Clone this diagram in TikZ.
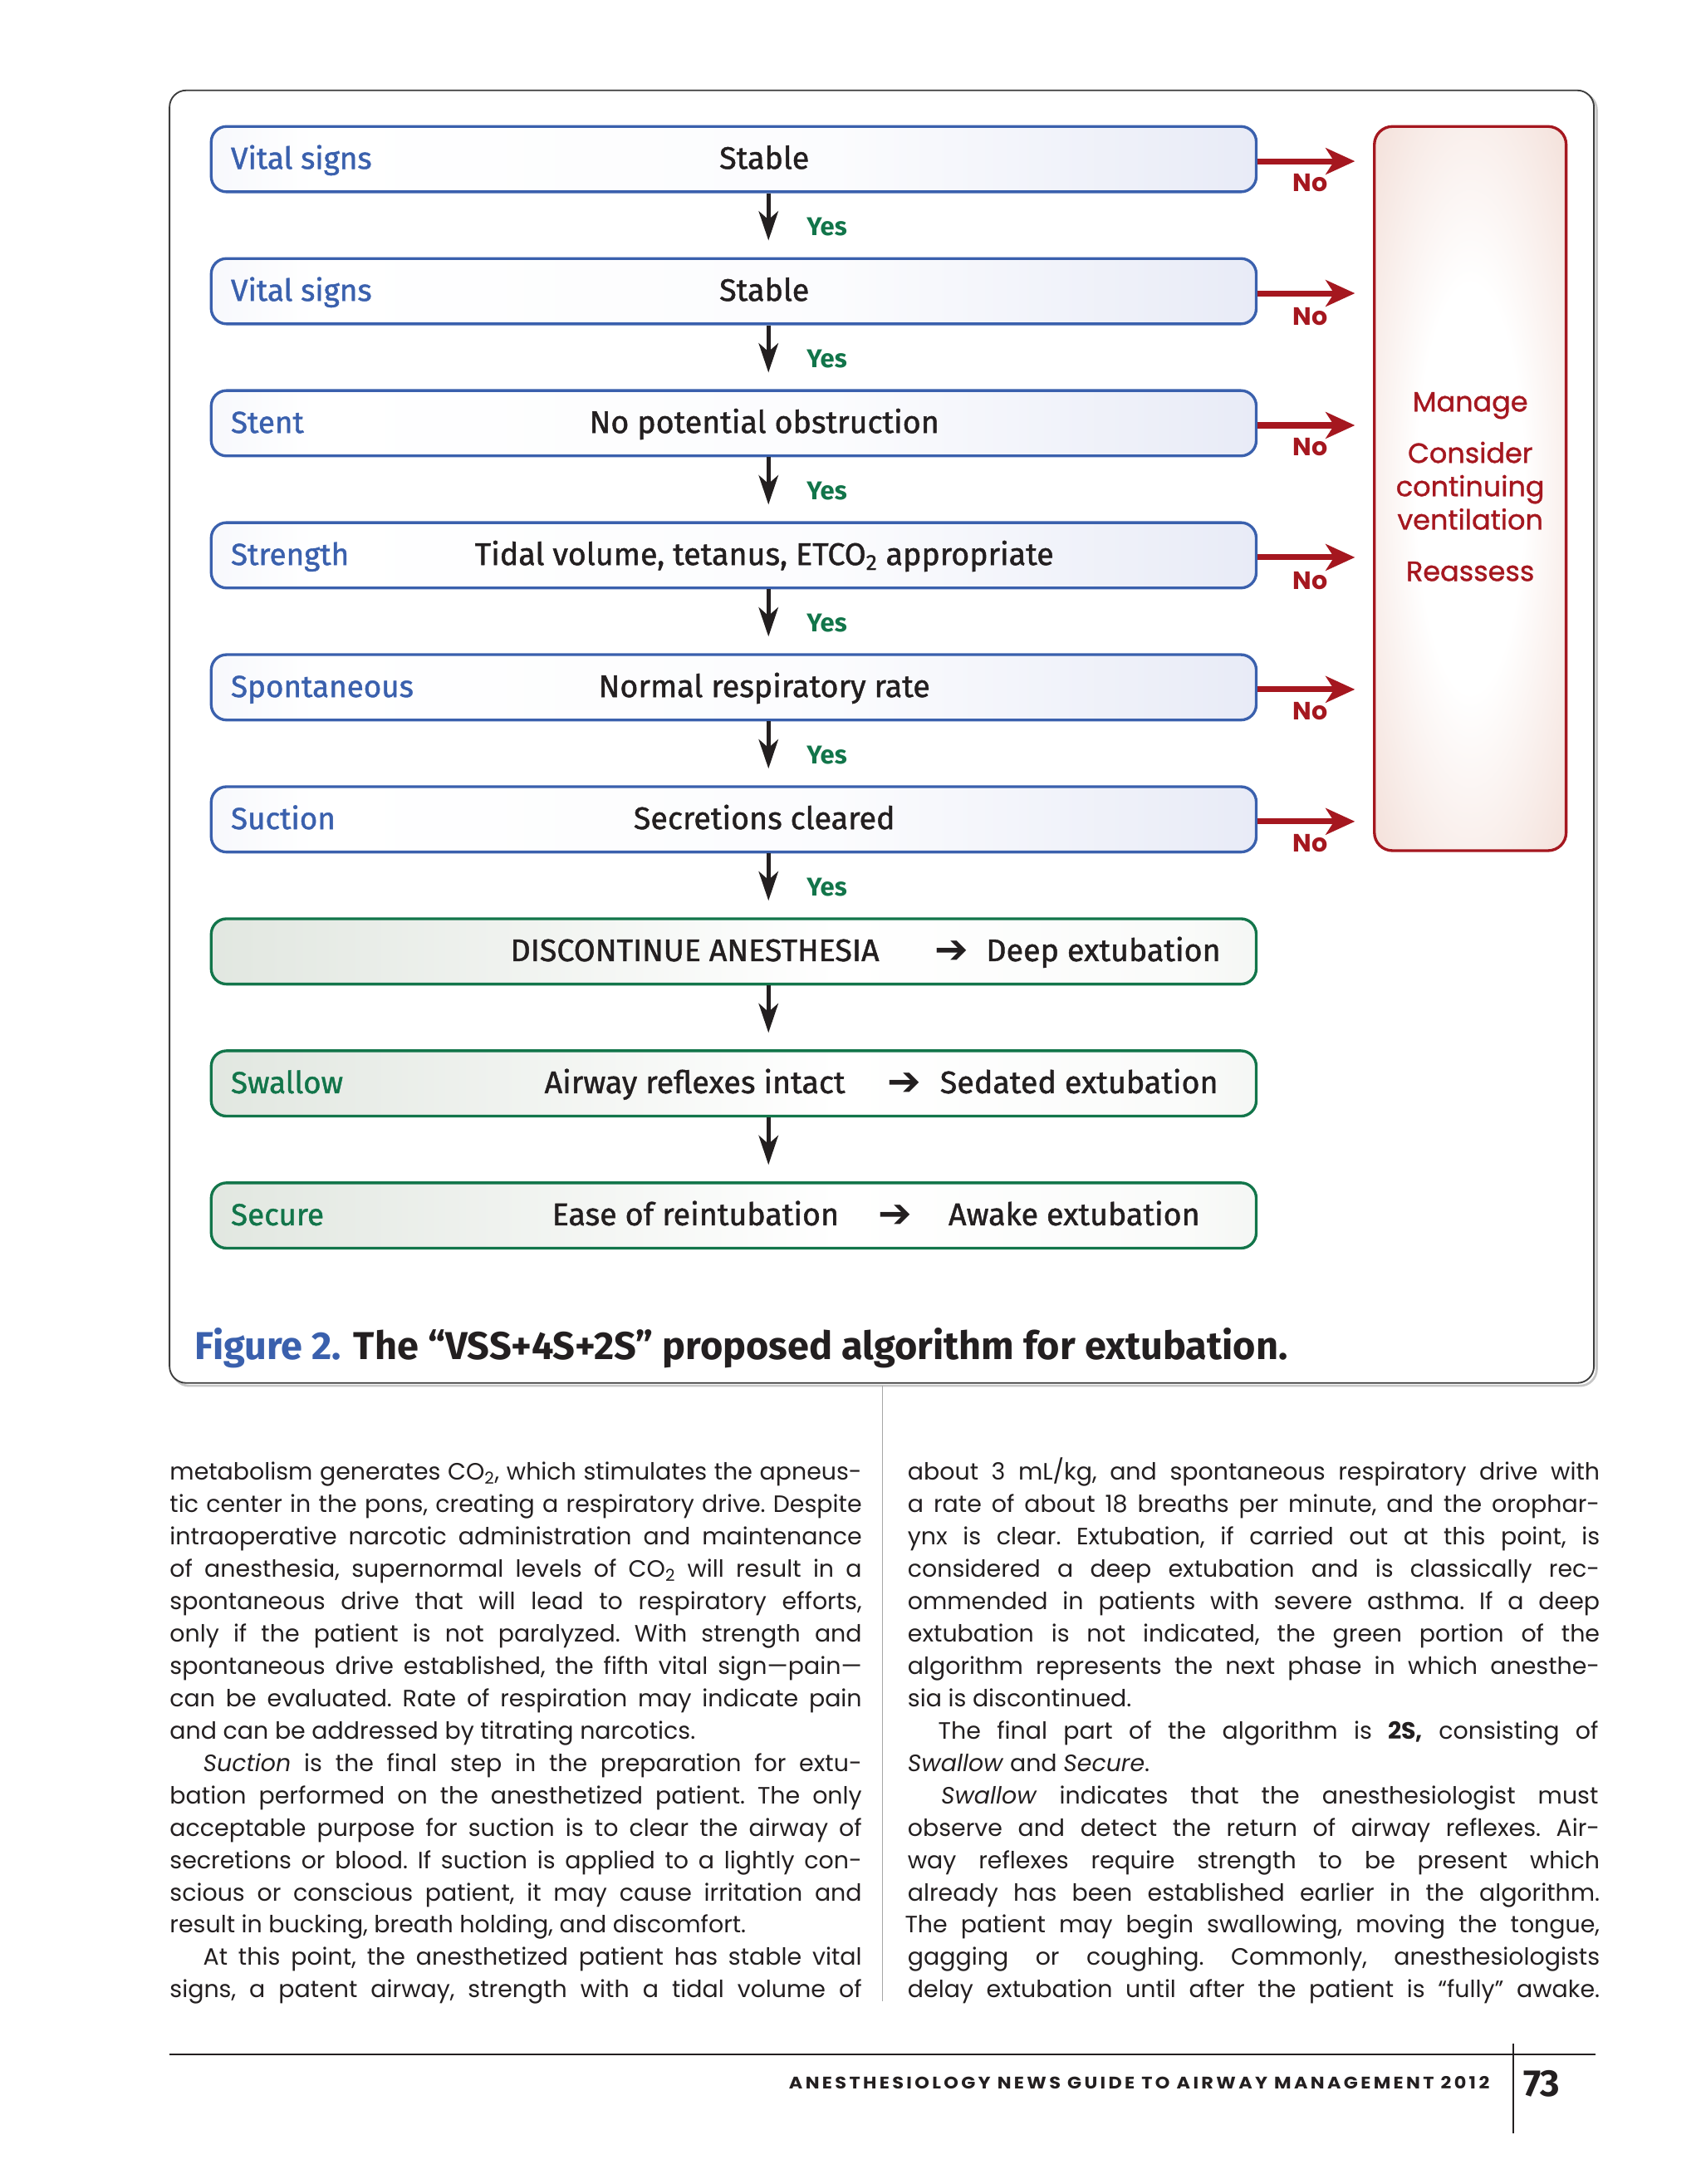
\documentclass[tikz,border=0pt]{standalone}
\usepackage{fontspec}
\setmainfont{Poppins}
\newfontfamily\narrowf{Fira Sans}
\newfontfamily\narrowm{Fira Sans}[FakeBold=1.2]
\newfontfamily\popm{Poppins}[FakeBold=1]
\newfontfamily\symf{DejaVu Sans}
\usetikzlibrary{arrows.meta}

\definecolor{vssblue}{HTML}{3A60AD}
\definecolor{bluefill}{HTML}{D0D6EE}
\definecolor{vssgreen}{HTML}{12754A}
\definecolor{greenfill}{HTML}{C9D3C7}
\definecolor{vssred}{HTML}{A5171F}
\definecolor{redfill}{HTML}{EFD4CB}
\definecolor{ink}{HTML}{231F20}
\definecolor{framegray}{HTML}{3C3C3C}

\pgfdeclarehorizontalshading{blueshade}{100bp}{color(0bp)=(bluefill); color(30bp)=(white); color(55bp)=(white!92!bluefill); color(100bp)=(bluefill)}
\pgfdeclarehorizontalshading{greenshade}{100bp}{color(0bp)=(greenfill); color(55bp)=(white); color(72bp)=(white!90!greenfill); color(100bp)=(greenfill)}
\pgfdeclareradialshading{redshade}{\pgfpoint{0bp}{0bp}}{color(0bp)=(white); color(14bp)=(white); color(44bp)=(redfill); color(72bp)=(redfill!85!vssred!40)}

\tikzset{
  bluebox/.style={draw=vssblue, line width=2pt, rounded corners=11pt, shading=blueshade, minimum width=752pt, minimum height=47pt, inner sep=0pt},
  greenbox/.style={draw=vssgreen, line width=2pt, rounded corners=11pt, shading=greenshade, minimum width=752pt, minimum height=47pt, inner sep=0pt},
  redbox/.style={draw=vssred, line width=2pt, rounded corners=13pt, shading=redshade, minimum width=138pt, minimum height=521pt, inner sep=0pt},
  lblblue/.style={anchor=base west, inner sep=0pt, text=vssblue, font=\narrowm\fontsize{22}{24}\selectfont},
  lblgreen/.style={anchor=base west, inner sep=0pt, text=vssgreen, font=\narrowm\fontsize{22}{24}\selectfont},
  midtxt/.style={anchor=base, inner sep=0pt, text=ink, font=\narrowm\fontsize{22.5}{24}\selectfont},
  arrglyph/.style={anchor=base, inner sep=0pt, text=ink, font=\symf\bfseries\fontsize{29}{30}\selectfont},
  yeslbl/.style={anchor=base, inner sep=0pt, text=vssgreen, font=\narrowf\bfseries\fontsize{18.5}{20}\selectfont},
  nolbl/.style={anchor=base, inner sep=0pt, text=vssred, font=\bfseries\fontsize{18}{20}\selectfont},
  downarr/.style={draw=ink, line width=3pt, -{Stealth[length=21pt, width=14pt, inset=6pt]}},
  redarr/.style={draw=vssred, line width=4.2pt, -{Stealth[length=21pt, width=19pt, inset=6pt]}},
  redtxt/.style={anchor=base, inner sep=0pt, text=vssred, font=\popm\fontsize{20}{22}\selectfont},
  bodytxt/.style={anchor=base west, inner sep=0pt, text=ink, font=\fontsize{17}{20}\selectfont\frenchspacing},
}

\newcommand\jline[4]{\node[bodytxt] (#1) at (#2,#3) {\makebox[498pt][s]{#4}};}
\newcommand\lline[4]{\node[bodytxt] (#1) at (#2,#3) {#4};}

\begin{document}
\begin{tikzpicture}[x=1pt,y=-1pt]
\useasboundingbox (0,0) rectangle (1224,1571.3);
\fill[white] (0,0) rectangle (1224,1571.3);

% frame
\draw[gray!45, line width=1.6pt, rounded corners=12pt] (124,67) rectangle (1149,997);
\draw[framegray, line width=1.1pt, rounded corners=12pt, fill=white] (122,65) rectangle (1147,995);

% blue boxes
\node[bluebox] (b1) at (528,114.5) {};
\node[bluebox] (b2) at (528,209.5) {};
\node[bluebox] (b3) at (528,304.5) {};
\node[bluebox] (b4) at (528,399.5) {};
\node[bluebox] (b5) at (528,494.5) {};
\node[bluebox] (b6) at (528,589.5) {};
% green boxes
\node[greenbox] (g1) at (528,684.5) {};
\node[greenbox] (g2) at (528,779.5) {};
\node[greenbox] (g3) at (528,874.5) {};
% red box
\node[redbox] (rbox) at (1058,351.5) {};

% labels in blue boxes
\node[lblblue] (l1) at (166,121.5) {Vital signs};
\node[lblblue] (l2) at (166,216.5) {Vital signs};
\node[lblblue] (l3) at (166,311.5) {Stent};
\node[lblblue] (l4) at (166,406.5) {Strength};
\node[lblblue] (l5) at (166,501.5) {Spontaneous};
\node[lblblue] (l6) at (166,596.5) {Suction};

\node[midtxt] (m1) at (550,121.5) {Stable};
\node[midtxt] (m2) at (550,216.5) {Stable};
\node[midtxt] (m3) at (550,311.5) {No potential obstruction};
\node[midtxt] (m4) at (550,406.5) {Tidal volume, tetanus, ETCO\textsubscript{2} appropriate};
\node[midtxt] (m5) at (550,501.5) {Normal respiratory rate};
\node[midtxt] (m6) at (550,596.5) {Secretions cleared};

% green box texts
\node[midtxt] (d1) at (500,691.5) {DISCONTINUE ANESTHESIA};
\node[arrglyph] (a1) at (685,693) {➔};
\node[midtxt] (e1) at (794,691.5) {Deep extubation};

\node[lblgreen] (s1) at (166,786.5) {Swallow};
\node[midtxt] (d2) at (500,786.5) {Airway reflexes intact};
\node[arrglyph] (a2) at (651,788) {➔};
\node[midtxt] (e2) at (776.5,786.5) {Sedated extubation};

\node[lblgreen] (s2) at (166,881.5) {Secure};
\node[midtxt] (d3) at (500.5,881.5) {Ease of reintubation};
\node[arrglyph] (a3) at (644,883) {➔};
\node[midtxt] (e3) at (773,881.5) {Awake extubation};

% down arrows
\draw[downarr, shorten >=12pt] ([xshift=25pt]b1.south) -- ([xshift=25pt]b2.north);
\draw[downarr, shorten >=12pt] ([xshift=25pt]b2.south) -- ([xshift=25pt]b3.north);
\draw[downarr, shorten >=12pt] ([xshift=25pt]b3.south) -- ([xshift=25pt]b4.north);
\draw[downarr, shorten >=12pt] ([xshift=25pt]b4.south) -- ([xshift=25pt]b5.north);
\draw[downarr, shorten >=12pt] ([xshift=25pt]b5.south) -- ([xshift=25pt]b6.north);
\draw[downarr, shorten >=12pt] ([xshift=25pt]b6.south) -- ([xshift=25pt]g1.north);
\draw[downarr, shorten >=12pt] ([xshift=25pt]g1.south) -- ([xshift=25pt]g2.north);
\draw[downarr, shorten >=12pt] ([xshift=25pt]g2.south) -- ([xshift=25pt]g3.north);

% Yes labels
\node[yeslbl] (y1) at (595,169.5) {Yes};
\node[yeslbl] (y2) at (595,264.5) {Yes};
\node[yeslbl] (y3) at (595,359.5) {Yes};
\node[yeslbl] (y4) at (595,454.5) {Yes};
\node[yeslbl] (y5) at (595,549.5) {Yes};
\node[yeslbl] (y6) at (595,644.5) {Yes};

% red arrows
\draw[redarr, shorten >=13pt] ([yshift=-1.5pt]b1.east) -- ([yshift=-1.5pt]b1.east -| rbox.west);
\draw[redarr, shorten >=13pt] ([yshift=-1.5pt]b2.east) -- ([yshift=-1.5pt]b2.east -| rbox.west);
\draw[redarr, shorten >=13pt] ([yshift=-1.5pt]b3.east) -- ([yshift=-1.5pt]b3.east -| rbox.west);
\draw[redarr, shorten >=13pt] ([yshift=-1.5pt]b4.east) -- ([yshift=-1.5pt]b4.east -| rbox.west);
\draw[redarr, shorten >=13pt] ([yshift=-1.5pt]b5.east) -- ([yshift=-1.5pt]b5.east -| rbox.west);
\draw[redarr, shorten >=13pt] ([yshift=-1.5pt]b6.east) -- ([yshift=-1.5pt]b6.east -| rbox.west);

% No labels
\node[nolbl] (n1) at (943,138) {No};
\node[nolbl] (n2) at (943,234) {No};
\node[nolbl] (n3) at (943,328) {No};
\node[nolbl] (n4) at (943,424) {No};
\node[nolbl] (n5) at (943,518) {No};
\node[nolbl] (n6) at (943,613) {No};

% red box text
\node[redtxt] (r1) at (1058,296) {Manage};
\node[redtxt] (r2) at (1058,333) {Consider};
\node[redtxt] (r3) at (1058,357) {continuing};
\node[redtxt] (r4) at (1058,381) {ventilation};
\node[redtxt] (r5) at (1058,418) {Reassess};

% caption
\node[anchor=base west, inner sep=0pt, font=\narrowf\bfseries\fontsize{28}{30}\selectfont, text=ink] (cap) at (140,978)
  {\textcolor{vssblue}{Figure 2.} The “VSS+4S+2S” proposed algorithm for extubation.};

% column divider
\draw[gray!70, line width=0.8pt] (635,997) -- (635,1440);

% left column
\jline{L1}{122}{1065}{metabolism generates CO\textsubscript{2}, which stimulates the apneus-}
\jline{L2}{122}{1088.27}{tic center in the pons, creating a respiratory drive. Despite}
\jline{L3}{122}{1111.54}{intraoperative narcotic administration and maintenance}
\jline{L4}{122}{1134.81}{of anesthesia, supernormal levels of CO\textsubscript{2} will result in a}
\jline{L5}{122}{1158.08}{spontaneous drive that will lead to respiratory efforts,}
\jline{L6}{122}{1181.35}{only if the patient is not paralyzed. With strength and}
\jline{L7}{122}{1204.62}{spontaneous drive established, the fifth vital sign—pain—}
\jline{L8}{122}{1227.89}{can be evaluated. Rate of respiration may indicate pain}
\lline{L9}{122}{1251.16}{and can be addressed by titrating narcotics.}
\node[bodytxt] (L10) at (146,1274.43) {\makebox[474pt][s]{\textit{Suction} is the final step in the preparation for extu-}};
\jline{L11}{122}{1297.70}{bation performed on the anesthetized patient. The only}
\jline{L12}{122}{1320.97}{acceptable purpose for suction is to clear the airway of}
\jline{L13}{122}{1344.24}{secretions or blood. If suction is applied to a lightly con-}
\jline{L14}{122}{1367.51}{scious or conscious patient, it may cause irritation and}
\lline{L15}{122}{1390.78}{result in bucking, breath holding, and discomfort.}
\node[bodytxt] (L16) at (146,1414.05) {\makebox[474pt][s]{At this point, the anesthetized patient has stable vital}};
\jline{L17}{122}{1437.32}{signs, a patent airway, strength with a tidal volume of}

% right column
\jline{R1}{653}{1065}{about 3 mL/kg, and spontaneous respiratory drive with}
\jline{R2}{653}{1088.27}{a rate of about 18 breaths per minute, and the orophar-}
\jline{R3}{653}{1111.54}{ynx is clear. Extubation, if carried out at this point, is}
\jline{R4}{653}{1134.81}{considered a deep extubation and is classically rec-}
\jline{R5}{653}{1158.08}{ommended in patients with severe asthma. If a deep}
\jline{R6}{653}{1181.35}{extubation is not indicated, the green portion of the}
\jline{R7}{653}{1204.62}{algorithm represents the next phase in which anesthe-}
\lline{R8}{653}{1227.89}{sia is discontinued.}
\node[bodytxt] (R9) at (675,1251.16) {\makebox[475pt][s]{The final part of the algorithm is \textbf{2S,} consisting of}};
\lline{R10}{653}{1274.43}{\textit{Swallow} and \textit{Secure}.}
\node[bodytxt] (R11) at (677,1297.70) {\makebox[473pt][s]{\textit{Swallow} indicates that the anesthesiologist must}};
\jline{R12}{653}{1320.97}{observe and detect the return of airway reflexes. Air-}
\jline{R13}{653}{1344.24}{way reflexes require strength to be present which}
\jline{R14}{653}{1367.51}{already has been established earlier in the algorithm.}
\node[bodytxt] (R15) at (651,1390.78) {\makebox[500pt][s]{The patient may begin swallowing, moving the tongue,}};
\jline{R16}{653}{1414.05}{gagging or coughing. Commonly, anesthesiologists}
\jline{R17}{653}{1437.32}{delay extubation until after the patient is “fully” awake.}

% footer
\draw[ink, line width=1.4pt] (122,1478) -- (1148,1478);
\draw[ink, line width=1pt] (1089,1470) -- (1089,1535);
\node[anchor=base east, inner sep=0pt, text=ink] (foot) at (1072,1503)
  {\resizebox{504pt}{9pt}{\bfseries\addfontfeature{LetterSpace=15}ANESTHESIOLOGY NEWS GUIDE TO AIRWAY MANAGEMENT 2012}};
\node[anchor=base west, inner sep=0pt, text=ink, font=\narrowf\bfseries\fontsize{27}{30}\selectfont] (pg) at (1096,1508) {73};
\end{tikzpicture}
\end{document}
